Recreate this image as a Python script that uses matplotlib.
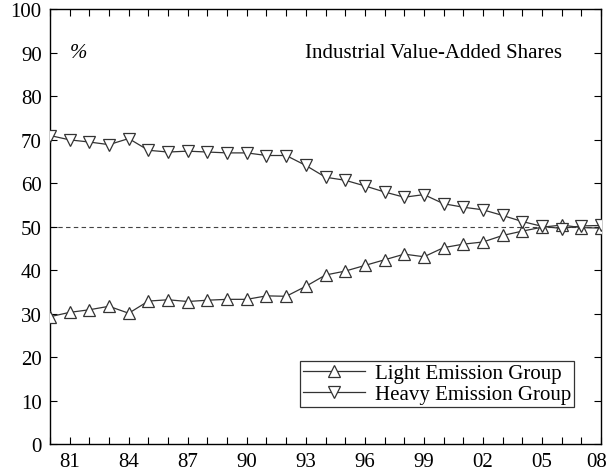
import matplotlib.pyplot as plt
import matplotlib.transforms as mtransforms
import numpy as np

# data
years = list(range(1980, 2009))
light = [29.3, 30.3, 30.9, 31.7, 30.1, 32.9, 33.2, 32.8, 33.1, 33.3,
         33.3, 34.1, 34.0, 36.3, 38.9, 39.8, 41.1, 42.4, 43.7, 43.1,
         45.2, 46.0, 46.5, 48.0, 49.0, 49.9, 50.4, 49.8, 49.7]
heavy = [71.0, 70.0, 69.5, 68.9, 70.3, 67.6, 67.2, 67.4, 67.2, 67.0,
         67.0, 66.4, 66.4, 64.1, 61.4, 60.7, 59.4, 58.0, 56.8, 57.4,
         55.3, 54.5, 53.9, 52.6, 51.2, 50.1, 49.6, 50.2, 50.3]
tick_years = list(range(1981, 2009, 3))
tick_labels = [str(y)[-2:] for y in tick_years]

plt.rcParams['font.family'] = ['Liberation Serif', 'DejaVu Serif']

fig = plt.figure(figsize=(6.11, 4.77), dpi=100)
ax = fig.add_axes([0.0818, 0.067, 0.902, 0.911])

ax.axhline(50, color='#444444', lw=0.8, ls=(0, (4, 3)), zorder=1)

ax.plot(years, light, color='#333333', lw=0.9, marker='^', ms=9,
        mfc='white', mec='#333333', mew=0.9, label='Light Emission Group', zorder=3)
ax.plot(years, heavy, color='#333333', lw=0.9, marker='v', ms=9,
        mfc='white', mec='#333333', mew=0.9, label='Heavy Emission Group', zorder=3)

ax.set_xlim(1980, 2008)
ax.set_ylim(0, 100)
ax.set_xticks(tick_years)
ax.set_xticklabels(tick_labels)
ax.set_xticks(years, minor=True)
ax.set_yticks(np.arange(0, 101, 10))
ax.tick_params(which='both', direction='in', top=True, right=True,
               length=5, width=0.8, labelsize=15, pad=6)
for s in ax.spines.values():
    s.set_linewidth(1.0)

# nudge the last x label so it stays inside the picture
last = ax.get_xticklabels()[-1]
last.set_transform(last.get_transform() +
                   mtransforms.ScaledTranslation(-4 / 100, 0, fig.dpi_scale_trans))

ax.text(1981.0, 90, '%', fontsize=15, style='italic', va='center')
ax.text(2006.0, 90, 'Industrial Value-Added Shares', fontsize=15,
        ha='right', va='center')

leg = ax.legend(loc='lower right', bbox_to_anchor=(0.951, 0.085), fontsize=15,
                frameon=True, fancybox=False, edgecolor='black',
                handlelength=3.0, handletextpad=0.45, borderpad=0.15,
                borderaxespad=0, labelspacing=0.05)
leg.get_frame().set_linewidth(0.9)
for h in leg.legend_handles:
    h.set_markerfacecolor('white')

fig.savefig('out.png', dpi=100)
